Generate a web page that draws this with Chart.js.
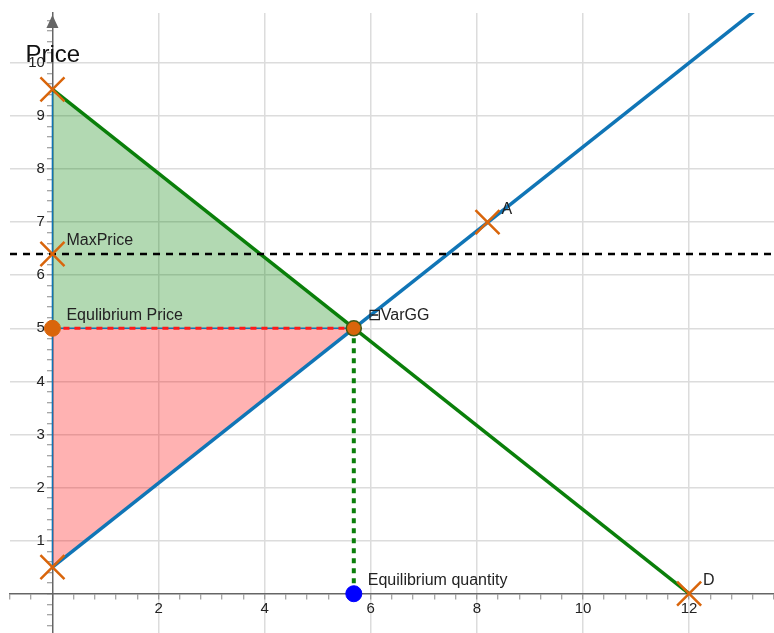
<!DOCTYPE html>
<html>
<head>
<meta charset="utf-8">
<script src="https://cdn.jsdelivr.net/npm/chart.js@4.4.1/dist/chart.umd.min.js"></script>
<style>
  html, body { margin: 0; padding: 0; background: #fff; }
  canvas { display: block; }
</style>
</head>
<body>
<canvas id="chart" width="774" height="633"></canvas>
<script>
// straight-line supply and demand with a price ceiling above equilibrium
const demandQ = [0, 12];
const demandP = [9.5, 0];
const supplyQ = [0, 13.3];
const supplyP = [0.5, 11.03];

const eqQ = 5.68;
const eqP = 5;
const maxPrice = 6.4;

// orange X markers
const crossQ = [0, 0, 0, 8.2, 12];
const crossP = [9.5, 0.5, 6.4, 7, 0];

// text next to points
const labelNames = ['MaxPrice', 'Equlibrium Price', '\u229FVarGG', 'A', 'D', 'Equilibrium quantity'];
const labelQ = [0, 0, 5.68, 8.2, 12, 5.68];
const labelP = [6.4, 5, 5, 7, 0, 0];

const FONT = '"Liberation Sans", Arial, sans-serif';
const BLUE = '#1075b6';
const GREEN = '#0a7f0a';
const ORANGE = '#d9650b';

const pts = (qs, ps) => qs.map((q, i) => ({ x: q, y: ps[i] }));
const isMultiple = (v, step) => Math.abs(v / step - Math.round(v / step)) < 1e-6;
const noPadding = (scale) => {
    scale.paddingLeft = 0;
    scale.paddingRight = 0;
    scale.paddingTop = 0;
    scale.paddingBottom = 0;
};

const pointLabels = {
    id: 'pointLabels',
    afterDatasetsDraw(chart) {
        const { ctx, scales } = chart;
        ctx.save();
        ctx.fillStyle = '#222';
        ctx.font = '16px ' + FONT;
        ctx.textBaseline = 'middle';
        labelNames.forEach((name, i) => {
            const px = scales.x.getPixelForValue(labelQ[i]);
            const py = scales.y.getPixelForValue(labelP[i]);
            ctx.fillText(name, px + 14, py - 13);
        });
        ctx.restore();
    },
};

const axisDecor = {
    id: 'axisDecor',
    afterDraw(chart) {
        const { ctx, scales, chartArea } = chart;
        const x0 = scales.x.getPixelForValue(0);
        ctx.save();
        // arrow on top of the price axis
        ctx.fillStyle = '#666';
        ctx.beginPath();
        ctx.moveTo(x0, chartArea.top + 2);
        ctx.lineTo(x0 - 6, chartArea.top + 15);
        ctx.lineTo(x0 + 6, chartArea.top + 15);
        ctx.closePath();
        ctx.fill();
        // axis name
        ctx.fillStyle = '#111';
        ctx.font = '24px ' + FONT;
        ctx.textBaseline = 'alphabetic';
        ctx.fillText('Price', x0 - 27, chartArea.top + 49);
        ctx.restore();
    },
};

new Chart(document.getElementById('chart'), {
    type: 'scatter',
    data: {
        datasets: [
            {
                label: 'Equilibrium quantity',
                data: [{ x: eqQ, y: 0 }],
                pointRadius: 8,
                backgroundColor: '#0000ff',
                borderColor: '#0000ff',
            },
            {
                label: 'Equilibrium',
                data: [{ x: eqQ, y: eqP }],
                pointRadius: 7.5,
                pointBorderWidth: 1.5,
                backgroundColor: ORANGE,
                borderColor: '#3d5a16',
            },
            {
                label: 'Equilibrium price',
                data: [{ x: 0, y: eqP }],
                pointRadius: 8,
                backgroundColor: ORANGE,
                borderColor: ORANGE,
            },
            {
                label: 'Markers',
                data: pts(crossQ, crossP),
                pointStyle: 'crossRot',
                pointRadius: 17,
                pointBorderWidth: 2.5,
                borderColor: ORANGE,
            },
            {
                label: 'Quantity drop',
                data: [{ x: eqQ, y: eqP }, { x: eqQ, y: 0 }],
                showLine: true,
                pointRadius: 0,
                borderColor: GREEN,
                borderWidth: 4,
                borderDash: [5, 5],
            },
            {
                label: 'Price line',
                data: [{ x: 0, y: eqP }, { x: eqQ, y: eqP }],
                showLine: true,
                pointRadius: 0,
                borderColor: '#ff1a1a',
                borderWidth: 3,
                borderDash: [6, 5],
            },
            {
                label: 'MaxPrice',
                data: [{ x: -0.8, y: maxPrice }, { x: 13.6, y: maxPrice }],
                showLine: true,
                pointRadius: 0,
                borderColor: '#000',
                borderWidth: 2.5,
                borderDash: [7, 6],
            },
            {
                label: 'Supply',
                data: pts(supplyQ, supplyP),
                showLine: true,
                pointRadius: 0,
                borderColor: BLUE,
                borderWidth: 3.5,
            },
            {
                label: 'Demand',
                data: pts(demandQ, demandP),
                showLine: true,
                pointRadius: 0,
                borderColor: GREEN,
                borderWidth: 3.5,
            },
            {
                label: 'Edge vertical',
                data: [{ x: 0, y: supplyP[0] }, { x: 0, y: demandP[0] }],
                showLine: true,
                pointRadius: 0,
                borderColor: BLUE,
                borderWidth: 1.5,
            },
            {
                label: 'Edge horizontal',
                data: [{ x: 0, y: eqP }, { x: eqQ, y: eqP }],
                showLine: true,
                pointRadius: 0,
                borderColor: BLUE,
                borderWidth: 1.5,
            },
            {
                label: 'Consumer surplus',
                data: [{ x: 0, y: demandP[0] }, { x: eqQ, y: eqP }],
                showLine: true,
                pointRadius: 0,
                borderWidth: 0,
                borderColor: 'rgba(0,0,0,0)',
                backgroundColor: 'rgba(0,128,0,0.3)',
                fill: { value: eqP },
            },
            {
                label: 'Producer surplus',
                data: [{ x: 0, y: supplyP[0] }, { x: eqQ, y: eqP }],
                showLine: true,
                pointRadius: 0,
                borderWidth: 0,
                borderColor: 'rgba(0,0,0,0)',
                backgroundColor: 'rgba(255,0,0,0.3)',
                fill: { value: eqP },
            },
        ],
    },
    options: {
        responsive: false,
        devicePixelRatio: 1,
        animation: false,
        layout: {
            autoPadding: false,
            padding: { left: 10, top: 13, right: 0, bottom: 0 },
        },
        scales: {
            x: {
                type: 'linear',
                min: -0.8,
                max: 13.6,
                position: { y: 0 },
                afterFit: noPadding,
                ticks: {
                    stepSize: 0.4,
                    autoSkip: false,
                    includeBounds: false,
                    maxRotation: 0,
                    padding: 1,
                    color: '#222',
                    font: { family: FONT, size: 15 },
                    callback: (v) => (v > 0 && isMultiple(v, 2) ? String(Math.round(v)) : ''),
                },
                grid: {
                    color: (ctx) => (ctx.tick && ctx.tick.value > 0 && isMultiple(ctx.tick.value, 2) ? '#dcdcdc' : 'rgba(0,0,0,0)'),
                    lineWidth: 1.5,
                    tickLength: 5,
                    tickColor: '#888',
                    tickWidth: 1,
                },
                border: { color: '#666', width: 1.5 },
            },
            y: {
                type: 'linear',
                min: -0.74,
                max: 10.94,
                position: { x: 0 },
                afterFit: noPadding,
                ticks: {
                    stepSize: 0.2,
                    autoSkip: false,
                    includeBounds: false,
                    color: '#222',
                    font: { family: FONT, size: 15 },
                    // labels sit right-aligned on a value-positioned axis; the en space keeps them off the ticks
                    callback: (v) => (v > 0 && isMultiple(v, 1) ? String(Math.round(v)) + '\u2002' : ''),
                },
                grid: {
                    color: (ctx) => (ctx.tick && ctx.tick.value > 0 && isMultiple(ctx.tick.value, 1) ? '#dcdcdc' : 'rgba(0,0,0,0)'),
                    lineWidth: 1.5,
                    tickLength: 5,
                    tickColor: '#888',
                    tickWidth: 1,
                },
                border: { color: '#666', width: 1.5 },
            },
        },
        plugins: {
            legend: { display: false },
            tooltip: { enabled: false },
        },
    },
    plugins: [pointLabels, axisDecor],
});
</script>
</body>
</html>
